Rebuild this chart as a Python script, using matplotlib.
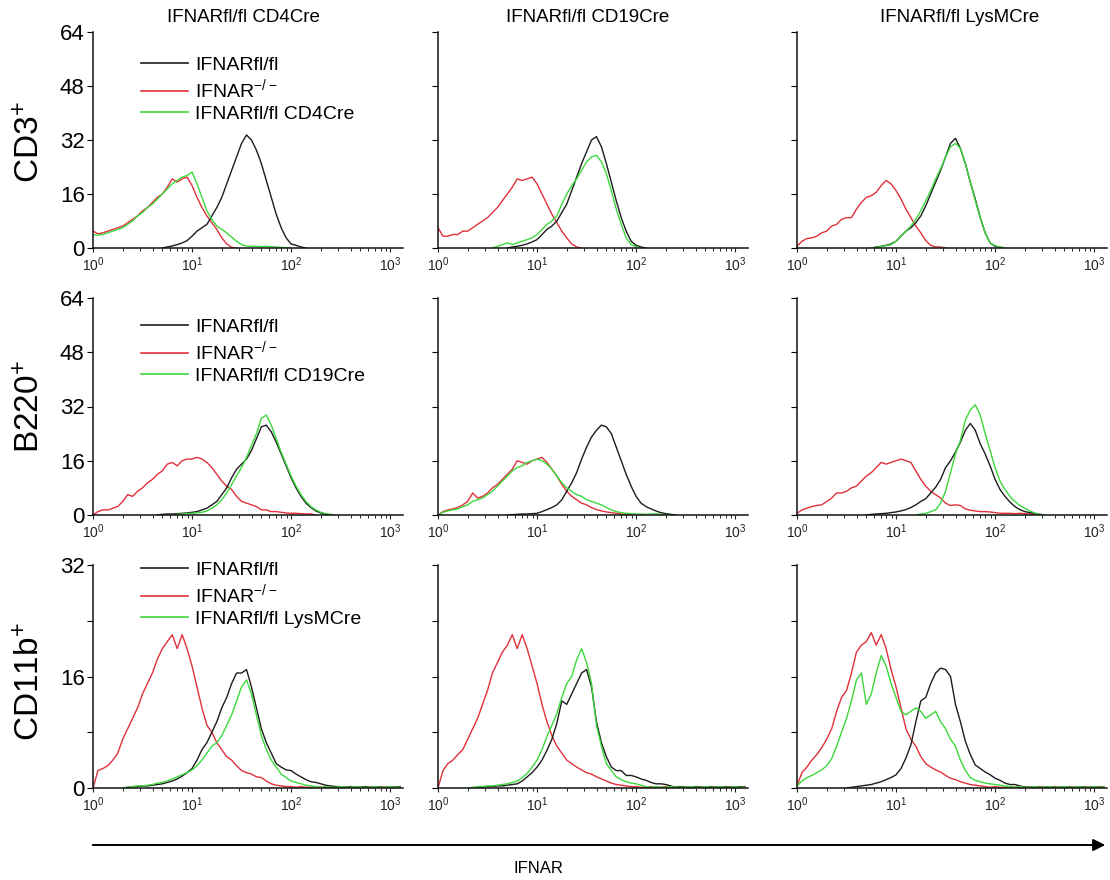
import numpy as np
import matplotlib
matplotlib.use("Agg")
import matplotlib.pyplot as plt
from matplotlib.patches import FancyArrowPatch
from matplotlib.lines import Line2D
from matplotlib.ticker import FixedLocator, FixedFormatter, LogLocator, NullFormatter

plt.rcParams["font.family"] = ["Liberation Sans", "DejaVu Sans"]
plt.rcParams["mathtext.default"] = "regular"

# histogram channels are 0.05 decade wide; every curve = (first channel exponent, counts)
STEP = 0.05

col_titles = ["IFNARfl/fl CD4Cre", "IFNARfl/fl CD19Cre", "IFNARfl/fl LysMCre"]
row_labels = ["CD3$^{+}$", "B220$^{+}$", "CD11b$^{+}$"]
cre_labels = ["IFNARfl/fl CD4Cre", "IFNARfl/fl CD19Cre", "IFNARfl/fl LysMCre"]
series_labels = ["IFNARfl/fl", "IFNAR$^{-/-}$"]
x_ticklabels = ["$10^{0}$", "$10^{1}$", "$10^{2}$", "$10^{3}$"]

# ---- CD3+ row ----
cd3_cd4cre_flfl = (0.70, [0, 0.3, 0.6, 1.0, 1.5, 2.2, 3.5, 5, 6, 7, 9.5, 12, 15, 19, 23, 27, 31, 33.5,
                          32, 29, 25, 20, 15, 10, 6, 3, 1.2, 0.8, 0.3, 0])
cd3_cd4cre_ko = (0.0, [5, 4.2, 4.5, 5, 5.5, 6, 6.5, 7.5, 8.5, 9.5, 11, 12, 13.5, 15, 16, 18, 20.5, 19.5,
                       20.5, 21, 18.5, 15, 12, 9.5, 7.5, 5.5, 3, 1.2, 0.2, 0])
cd3_cd4cre_cre = (0.0, [4, 3.8, 4, 4.5, 5, 5.5, 6, 7, 8, 9.5, 10.5, 12, 13, 14.5, 16, 17.5, 19, 20, 21,
                        21.5, 22.5, 19, 15, 11, 8.5, 6.5, 5.5, 4.5, 3.2, 2, 1, 0.6, 0.5, 0.5, 0.4,
                        0.5, 0.4, 0.3, 0.2, 0.1, 0])

cd3_cd19cre_flfl = (0.70, [0, 0.3, 0.5, 0.8, 1.2, 1.8, 2.5, 4, 5.5, 6.5, 8, 10.5, 13, 17, 21, 25, 28.5,
                           32, 33, 30, 25, 19.5, 14, 9, 5, 2, 0.8, 0.3, 0])
cd3_cd19cre_ko = (0.0, [6, 3.5, 3.5, 4, 4, 5, 5, 6, 7, 8, 9, 10.5, 12, 14, 16, 18, 20.5, 20, 20.5, 21,
                        19, 16, 13, 10, 7.5, 5, 3, 1.2, 0.3, 0])
cd3_cd19cre_cre = (0.55, [0, 0.5, 1, 1.5, 1, 1.5, 2, 2.5, 3, 4, 5.5, 7, 8, 9.5, 13, 16, 18.5, 20.5, 23,
                          25.5, 27, 27.5, 25.5, 22, 17, 11.5, 7, 3, 1, 0.4, 0])

cd3_lysmcre_flfl = (0.75, [0, 0.3, 0.5, 0.8, 1.2, 2, 3.5, 5, 6, 7.5, 9.5, 12.5, 16, 19.5, 23, 27, 31,
                           32.5, 29.5, 25, 19.5, 14.5, 9, 4.5, 1.5, 0.5, 0.2, 0])
cd3_lysmcre_ko = (0.0, [0.5, 2, 2.8, 3, 3.5, 4.5, 5, 6.5, 7, 8.5, 9, 9, 11.5, 13.5, 15, 15.5, 16.5,
                        18.5, 20, 19, 17, 14.5, 11.5, 9, 6.5, 4.5, 2.2, 0.8, 0.3, 0.3, 0])
cd3_lysmcre_cre = (0.75, [0, 0.2, 0.4, 0.7, 1, 2, 3.5, 5, 6.5, 8.5, 11, 14, 17, 20.5, 23.5, 27, 30, 31,
                          29.5, 25, 19.5, 14, 9, 4.5, 1.5, 0.7, 0.3, 0])

# ---- B220+ row ----
b220_cd4cre_flfl = (0.65, [0, 0.2, 0.3, 0.3, 0.4, 0.5, 0.6, 0.8, 1, 1.5, 2, 3, 4, 6, 8, 11, 13.5, 15,
                           16.5, 19, 22.5, 26, 26.5, 24.5, 21.5, 18, 14.5, 11, 8, 5.5, 3.5, 2.2, 1.2,
                           0.6, 0.2, 0])
b220_cd4cre_ko = (0.0, [0, 1, 1.5, 1.5, 2, 2.5, 4, 6, 5.5, 7, 8, 9.5, 10.5, 12, 13, 15, 15.5, 14.5, 16,
                        16.5, 16.5, 17, 16.5, 15.5, 14, 12, 10, 8.5, 7.5, 5.5, 4, 3.5, 3, 2.5, 1.5,
                        1.5, 1, 1, 0.8, 0.6, 0.5, 0.5, 0.4, 0.3, 0.3, 0])
b220_cd4cre_cre = (0.80, [0, 0.2, 0.3, 0.4, 0.5, 0.6, 0.8, 1.2, 2, 3, 4.5, 6.5, 9, 11.5, 14, 17, 20.5,
                          24, 28.5, 29.5, 26.5, 22.5, 18.5, 15, 11.5, 8.5, 6, 4, 2.5, 1.5, 0.8, 0.4,
                          0.2, 0])

b220_cd19cre_flfl = (0.70, [0, 0.1, 0.2, 0.3, 0.3, 0.4, 0.5, 1, 1.6, 2.2, 3, 4.5, 7, 9.5, 12.5, 16.5,
                            20, 23, 25, 26.5, 26, 24, 20, 16, 12, 8.5, 5.5, 3.5, 2.5, 1.8, 1.2, 0.7,
                            0.4, 0.2, 0])
b220_cd19cre_ko = (0.0, [0, 1, 1.5, 1.8, 2.2, 3, 4, 6.5, 5, 5.5, 6.5, 8, 9, 10.5, 12, 13.5, 16, 15.5,
                         15, 16, 16.5, 17, 15.5, 13.5, 11.5, 9, 7, 5.5, 4.5, 3.5, 3, 2.2, 1.6, 1.2,
                         0.9, 0.7, 0.5, 0.3, 0.2, 0])
b220_cd19cre_cre = (0.0, [0, 0.8, 1.2, 1.5, 1.8, 2.5, 3, 4, 4.5, 5, 6, 7, 8.5, 10, 11.5, 13, 14, 14.5,
                          15.5, 16, 16.5, 16, 15, 13.5, 11.5, 9.5, 8, 7, 6, 5.5, 4.5, 4, 3.5, 3, 2.2,
                          1.5, 1, 0.7, 0.5, 0.4, 0.3, 0.3, 0.2, 0.3, 0.4, 0.2, 0.1, 0])

b220_lysmcre_flfl = (0.70, [0, 0.2, 0.3, 0.4, 0.5, 0.7, 0.9, 1.2, 1.6, 2.2, 3, 4, 4.8, 6.5, 8.2, 10.5,
                            14, 16, 18.5, 21.5, 25, 27, 25, 21, 18, 14.5, 10.5, 7.5, 5.5, 3.8, 2.5,
                            1.6, 1, 0.7, 0.5, 0.2, 0])
b220_lysmcre_ko = (0.0, [0.5, 1.5, 2, 2.5, 2.8, 3, 4, 5, 6.5, 6.5, 7, 8, 8.5, 10, 11.5, 12.5, 14, 15.5,
                         15, 15.5, 16, 16.5, 16, 15.5, 13, 10.5, 8.5, 7, 6, 5, 3.5, 2.8, 3, 2.8, 1.8,
                         1.4, 1.2, 1, 1, 0.9, 0.7, 0.5, 0.5, 0.5, 0.4, 0.5, 0.4, 0.3, 0.3, 0])
b220_lysmcre_cre = (1.20, [0, 0.3, 0.5, 1, 1.5, 3.5, 7, 12.5, 18, 22, 28, 31, 32.5, 29.5, 24, 19, 14,
                           10, 7.5, 5.5, 4, 2.8, 2, 1.2, 0.6, 0.2, 0])

# ---- CD11b+ row ----
cd11b_cd4cre_flfl = (0.30, [0, 0.1, 0.2, 0.2, 0.3, 0.3, 0.4, 0.5, 0.6, 0.8, 1, 1.3, 1.7, 2.2, 2.8, 4,
                            5.5, 6.5, 8, 9.5, 11.5, 13, 15, 16.5, 16.5, 17, 14.5, 11.5, 8.5, 6.5, 5,
                            3.5, 3, 2.6, 2.5, 2, 1.6, 1.2, 0.9, 0.8, 0.6, 0.4, 0.3, 0.2,
                            0.2, 0.1, 0.2, 0.1, 0.1, 0.2, 0.1, 0.2, 0.1, 0.1, 0.2, 0.1, 0.2])
cd11b_cd4cre_ko = (0.0, [0, 2.5, 2.8, 3.2, 4, 5, 7, 8.5, 10, 11.5, 13.5, 15, 16.5, 18.5, 20, 21, 22, 20,
                         22, 20, 17.5, 14.5, 11.5, 9, 8, 6.5, 5.5, 4.5, 4, 3.2, 2.5, 2.2, 2, 1.6, 1.5,
                         1, 0.6, 0.4, 0.3, 0.2, 0.2,
                         0.1, 0.2, 0.1, 0.1, 0.2, 0.1, 0.1, 0.1, 0.2, 0.1, 0.1, 0.2, 0.1, 0.1, 0.2,
                         0.1, 0.1, 0.2, 0.1, 0.2, 0.1, 0.2])
cd11b_cd4cre_cre = (0.30, [0, 0.1, 0.2, 0.3, 0.3, 0.4, 0.5, 0.7, 0.8, 1, 1.3, 1.6, 1.9, 2.2, 2.6, 3.2,
                           4, 5, 6, 6.5, 7.5, 9, 10.5, 12.5, 14.5, 15.5, 13.5, 10.5, 7.5, 5.5, 4, 3,
                           2, 1.5, 1, 0.8, 0.6, 0.4, 0.3, 0.2,
                           0.1, 0.2, 0.1, 0.1, 0.2, 0.1, 0.1, 0.2, 0.1, 0.1, 0.1, 0.2, 0.1, 0.1,
                           0.2, 0.1, 0.1])

cd11b_cd19cre_flfl = (0.40, [0, 0.1, 0.2, 0.2, 0.3, 0.3, 0.4, 0.5, 0.6, 1, 1.6, 2.2, 3, 4, 5.4, 7,
                             9.3, 12.5, 12, 13.5, 15, 16.5, 17, 14.5, 9.5, 6.5, 4.5, 3, 2.5, 2.5,
                             1.8, 1.8, 1.6, 1.3, 1.1, 0.8, 0.6, 0.6, 0.5, 0.3, 0.1,
                             0.2, 0.1, 0.1, 0.2, 0.1, 0.1, 0.2, 0.1, 0.1, 0.2, 0.1, 0.1, 0.2, 0.1])
cd11b_cd19cre_ko = (0.0, [0, 2.5, 3.5, 4, 4.8, 5.5, 7, 8.5, 10, 12, 14, 16.5, 18, 19.5, 20.5, 22, 20,
                          22, 20, 17.5, 15, 12, 9.5, 7.5, 6, 5, 4, 3.5, 3, 2.6, 2.2, 2, 1.6, 1.3, 1,
                          0.7, 0.5, 0.4, 0.3, 0.2,
                          0.2, 0.1, 0.1, 0.2, 0.1, 0.1, 0.2, 0.1, 0.1, 0.2, 0.1, 0.1, 0.1, 0.2,
                          0.1, 0.1, 0.2, 0.1, 0.1, 0.2, 0.1, 0.1, 0.2])
cd11b_cd19cre_cre = (0.30, [0, 0.1, 0.2, 0.2, 0.3, 0.3, 0.4, 0.5, 0.6, 0.8, 1, 1.5, 2.1, 3, 4, 5.5,
                            7.4, 9, 10.7, 13, 15, 16, 18.4, 20, 18, 15, 9, 6, 3.5, 2.5, 1.6, 1.2,
                            0.9, 0.7, 0.6, 0.4, 0.2,
                            0.1, 0.2, 0.1, 0.1, 0.2, 0.1, 0.1, 0.1, 0.2, 0.1, 0.1, 0.2, 0.1, 0.1,
                            0.2, 0.1, 0.1, 0.2, 0.1, 0.1])

cd11b_lysmcre_flfl = (0.50, [0, 0.1, 0.2, 0.3, 0.4, 0.5, 0.7, 0.9, 1.2, 1.5, 1.9, 2.8, 4.3, 6.2, 9.5,
                             12.5, 13, 15, 16.5, 17.2, 17, 16, 12, 9.5, 6.7, 4.8, 3.3, 2.8, 2.3,
                             1.9, 1.4, 1.1, 0.7, 0.5, 0.5, 0.3, 0.15,
                             0.1, 0.2, 0.1, 0.1, 0.2, 0.1, 0.1, 0.2, 0.1, 0.1, 0.2, 0.1, 0.1, 0.2,
                             0.1, 0.1])
cd11b_lysmcre_ko = (0.0, [0.3, 2.2, 3, 4, 4.8, 5.8, 7, 8.5, 11, 13, 14, 16.5, 19.5, 20.5, 21, 22.3,
                          20.5, 22, 20, 17, 14.5, 11.5, 8.5, 7, 6, 4.5, 3.5, 3, 2.6, 2.3, 1.8, 1.4,
                          1.2, 0.9, 0.7, 0.5, 0.4, 0.3, 0.2,
                          0.1, 0.2, 0.1, 0.1, 0.2, 0.1, 0.1, 0.2, 0.1, 0.1, 0.2, 0.1, 0.1, 0.2,
                          0.1, 0.1, 0.2, 0.1, 0.1, 0.2, 0.1, 0.1, 0.2, 0.1])
cd11b_lysmcre_cre = (0.0, [0.3, 1, 1.5, 1.8, 2.2, 2.6, 3.2, 4.2, 6, 8, 10, 12.5, 15.5, 16.5, 12, 13.5,
                           16.5, 19, 17.5, 15, 13, 11, 10.5, 11, 11.5, 11, 10, 10.5, 11, 9.5, 8.5, 7,
                           6, 4, 2.5, 1.5, 1.1, 0.9, 0.7, 0.6, 0.5, 0.4, 0.3,
                           0.2, 0.1, 0.2, 0.1, 0.1, 0.2, 0.1, 0.1, 0.2, 0.1, 0.1, 0.2, 0.1, 0.1,
                           0.2, 0.1, 0.1, 0.2, 0.1, 0.1])

panels = [
    [(cd3_cd4cre_flfl, cd3_cd4cre_ko, cd3_cd4cre_cre),
     (cd3_cd19cre_flfl, cd3_cd19cre_ko, cd3_cd19cre_cre),
     (cd3_lysmcre_flfl, cd3_lysmcre_ko, cd3_lysmcre_cre)],
    [(b220_cd4cre_flfl, b220_cd4cre_ko, b220_cd4cre_cre),
     (b220_cd19cre_flfl, b220_cd19cre_ko, b220_cd19cre_cre),
     (b220_lysmcre_flfl, b220_lysmcre_ko, b220_lysmcre_cre)],
    [(cd11b_cd4cre_flfl, cd11b_cd4cre_ko, cd11b_cd4cre_cre),
     (cd11b_cd19cre_flfl, cd11b_cd19cre_ko, cd11b_cd19cre_cre),
     (cd11b_lysmcre_flfl, cd11b_lysmcre_ko, cd11b_lysmcre_cre)],
]
row_ymax = [64, 64, 32]
row_yticks = [[0, 16, 32, 48, 64], [0, 16, 32, 48, 64], [0, 8, 16, 24, 32]]
row_yticklabels = [["0", "16", "32", "48", "64"], ["0", "16", "32", "48", "64"],
                   ["0", "", "16", "", "32"]]

BLACK = "#1c1c1c"
RED = "#e0303a"
GREEN = "#3cd83c"

W, H = 1110, 880
fig = plt.figure(figsize=(W / 100, H / 100), dpi=100)

col_left = [93, 438, 797]
col_width = 310
row_bottom = [248, 515, 788]
row_height = [216, 217, 223]
col_center = [243, 588, 960]
row_center = [142, 407, 682]
legend_top = [56, 318, 561]


def draw_curve(ax, curve, color):
    start, counts = curve
    x = 10 ** (start + STEP * np.arange(len(counts)))
    ax.plot(x, counts, color=color, lw=1.0)


for r in range(3):
    for c in range(3):
        ax = fig.add_axes([col_left[c] / W, 1 - row_bottom[r] / H,
                           col_width / W, row_height[r] / H])
        flfl, ko, cre = panels[r][c]
        draw_curve(ax, ko, RED)
        draw_curve(ax, flfl, BLACK)
        draw_curve(ax, cre, GREEN)

        ax.set_xscale("log")
        ax.set_xlim(1, 10 ** 3.13)
        ax.set_ylim(0, row_ymax[r])
        ax.spines["top"].set_visible(False)
        ax.spines["right"].set_visible(False)
        for s in ("left", "bottom"):
            ax.spines[s].set_linewidth(1.1)
            ax.spines[s].set_color("#111111")

        ax.xaxis.set_major_locator(FixedLocator([1, 10, 100, 1000]))
        ax.xaxis.set_major_formatter(FixedFormatter(x_ticklabels))
        ax.xaxis.set_minor_locator(LogLocator(base=10, subs=np.arange(2, 10)))
        ax.xaxis.set_minor_formatter(NullFormatter())
        ax.tick_params(axis="x", which="major", direction="out", length=3, width=0.8,
                       labelsize=10, pad=2, colors="#222222")
        ax.tick_params(axis="x", which="minor", direction="out", length=2, width=0.6)

        ax.yaxis.set_major_locator(FixedLocator(row_yticks[r]))
        if c == 0:
            ax.yaxis.set_major_formatter(FixedFormatter(row_yticklabels[r]))
        else:
            ax.yaxis.set_major_formatter(NullFormatter())
        ax.tick_params(axis="y", direction="out", length=4, width=0.8, labelsize=16, pad=2)

        if c == 0:
            handles = [Line2D([], [], color=BLACK, lw=1.2),
                       Line2D([], [], color=RED, lw=1.2),
                       Line2D([], [], color=GREEN, lw=1.2)]
            ax.legend(handles, series_labels + [cre_labels[r]], loc="upper left",
                      bbox_to_anchor=(141 / W, 1 - legend_top[r] / H),
                      bbox_transform=fig.transFigure, frameon=False, fontsize=14,
                      handlelength=2.4, handletextpad=0.4, labelspacing=0.2,
                      borderpad=0, borderaxespad=0)

for c in range(3):
    fig.text(col_center[c] / W, 1 - 18 / H, col_titles[c], ha="center", va="center",
             fontsize=13.5)
for r in range(3):
    fig.text(31 / W, 1 - row_center[r] / H, row_labels[r], rotation=90, ha="center",
             va="center", fontsize=24)

arrow = FancyArrowPatch((90 / W, 1 - 845 / H), (1108 / W, 1 - 845 / H),
                        transform=fig.transFigure, arrowstyle="-|>", mutation_scale=18,
                        lw=1.4, color="black")
fig.add_artist(arrow)
fig.text(538 / W, 1 - 868 / H, "IFNAR", ha="center", va="center", fontsize=12)

fig.savefig("out.png", dpi=100)
